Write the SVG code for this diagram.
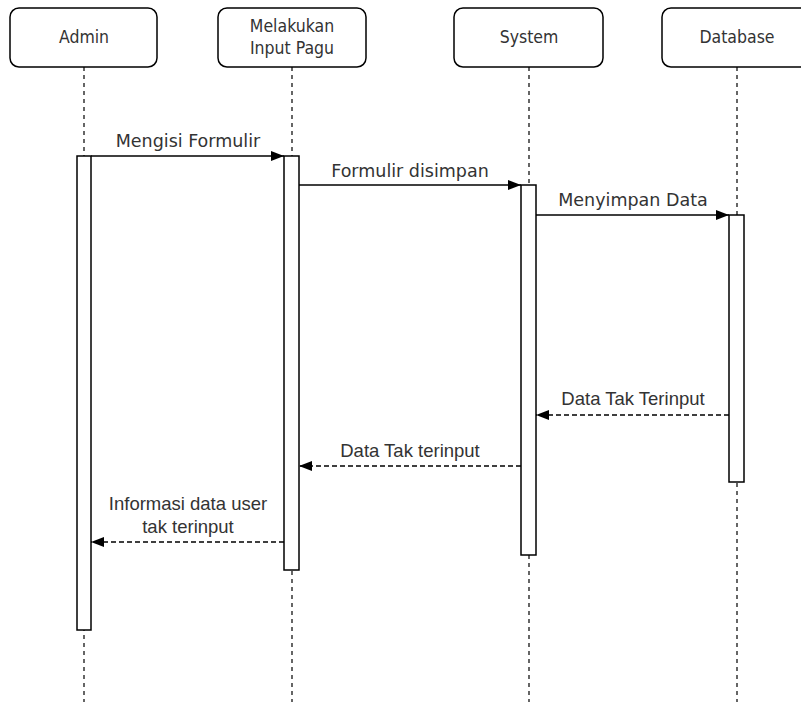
<svg xmlns="http://www.w3.org/2000/svg" width="801" height="702" viewBox="0 0 801 702">
<style>
.box{fill:#fff;stroke:#000;stroke-width:1.5}
.life{stroke:#000;stroke-width:1.2;stroke-dasharray:4 4;fill:none}
.act{fill:#fff;stroke:#000;stroke-width:1.5}
.msg{stroke:#000;stroke-width:1.5;fill:none}
.ret{stroke:#000;stroke-width:1.5;fill:none;stroke-dasharray:5 3}
.bl{font-family:"DejaVu Sans Condensed","DejaVu Sans",sans-serif;font-size:17.5px;fill:#333;text-anchor:middle}
.ml{font-family:"DejaVu Sans",sans-serif;font-size:17.5px;fill:#333;text-anchor:middle}
.rl{font-family:"Liberation Sans",Arial,sans-serif;font-size:18.5px;fill:#333;text-anchor:middle}
</style>
<defs>
<marker id="ah" markerWidth="14" markerHeight="10" refX="13" refY="5" orient="auto" markerUnits="userSpaceOnUse">
<path d="M0,0 L13,5 L0,10 Z" fill="#000"/>
</marker>
</defs>
<rect width="801" height="702" fill="#fff"/>
<g id="lifelines">
<line class="life" x1="84" y1="67" x2="84" y2="702"/>
<line class="life" x1="292" y1="67" x2="292" y2="702"/>
<line class="life" x1="529" y1="67" x2="529" y2="702"/>
<line class="life" x1="737" y1="67" x2="737" y2="702"/>
</g>
<g id="admin">
<rect class="box" x="10" y="8" width="147" height="59" rx="9"/>
<text class="bl" x="84" y="43">Admin</text>
<rect class="act" x="77" y="156" width="14" height="474"/>
</g>
<g id="melakukan">
<rect class="box" x="218" y="8" width="148" height="59" rx="9"/>
<text class="bl" x="292" y="32">Melakukan</text>
<text class="bl" x="292" y="54">Input Pagu</text>
<rect class="act" x="284" y="156" width="15" height="414"/>
</g>
<g id="system">
<rect class="box" x="454" y="8" width="149" height="59" rx="9"/>
<text class="bl" x="529" y="43">System</text>
<rect class="act" x="521" y="185" width="15" height="370"/>
</g>
<g id="database">
<rect class="box" x="662" y="8" width="150" height="59" rx="9"/>
<text class="bl" x="737" y="43">Database</text>
<rect class="act" x="729" y="215" width="15" height="267"/>
</g>
<g id="connectors">
<line class="msg" x1="91" y1="156" x2="284" y2="156" marker-end="url(#ah)"/>
<text class="ml" x="188" y="147">Mengisi Formulir</text>
<line class="msg" x1="299" y1="185" x2="521" y2="185" marker-end="url(#ah)"/>
<text class="ml" x="410" y="177">Formulir disimpan</text>
<line class="msg" x1="536" y1="215" x2="729" y2="215" marker-end="url(#ah)"/>
<text class="ml" x="633" y="206">Menyimpan Data</text>
<line class="ret" x1="729" y1="415" x2="536" y2="415" marker-end="url(#ah)"/>
<text class="rl" x="633" y="405">Data Tak Terinput</text>
<line class="ret" x1="521" y1="466" x2="299" y2="466" marker-end="url(#ah)"/>
<text class="rl" x="410" y="457">Data Tak terinput</text>
<line class="ret" x1="284" y1="542" x2="91" y2="542" marker-end="url(#ah)"/>
<text class="rl" x="188" y="510">Informasi data user</text>
<text class="rl" x="188" y="533">tak terinput</text>
</g>
</svg>
